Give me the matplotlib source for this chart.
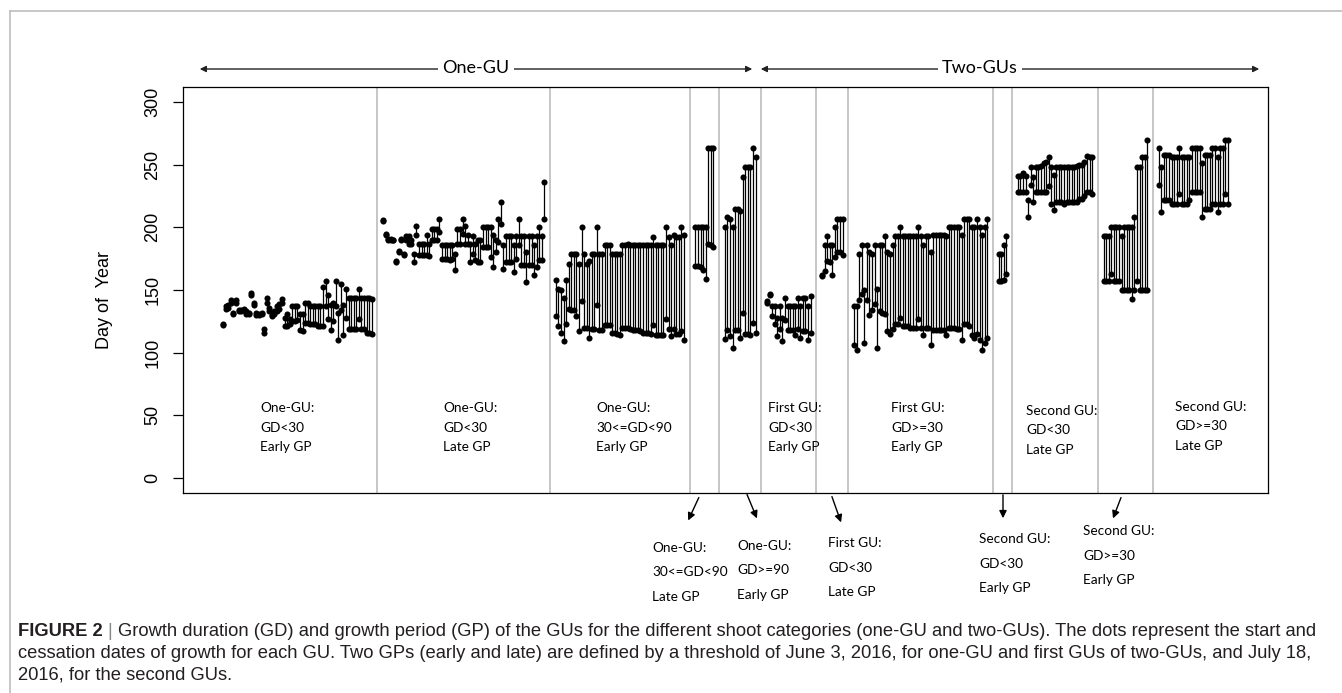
import matplotlib
matplotlib.use('Agg')
import matplotlib.pyplot as plt

plt.rcParams['font.family'] = ['Liberation Sans', 'DejaVu Sans']

# Day of year of growth start and cessation for each GU, by shoot category
one_lt30_early_start = [122, 135, 136, 140, 131, 140, 133, 133, 134, 131, 131, 146, 138, 130, 130,
                        131, 116, 140, 133, 129, 131, 133, 135, 140, 121, 121, 123, 125, 125, 126,
                        118, 117, 124, 124, 123, 123, 123, 121, 121, 121, 137, 127, 118, 125, 137,
                        110, 134, 114, 128, 119, 119, 119, 119, 127, 119, 119, 116, 116, 115]
one_lt30_early_end = [123, 137, 138, 142, 132, 142, 134, 134, 135, 133, 132, 148, 140, 132, 131,
                      132, 119, 144, 136, 130, 133, 137, 139, 143, 128, 131, 127, 137, 137, 137,
                      131, 131, 140, 140, 137, 137, 137, 137, 137, 152, 157, 146, 138, 140, 157,
                      132, 155, 138, 151, 144, 144, 144, 144, 151, 144, 144, 144, 144, 143]

one_lt30_late_start = [205, 194, 190, 190, 190, 172, 180, 190, 178, 190, 187, 187, 172, 194, 178,
                       178, 178, 178, 177, 190, 190, 190, 196, 175, 175, 175, 174, 175, 166, 187,
                       187, 195, 187, 187, 172, 179, 174, 172, 172, 184, 184, 184, 176, 168, 180,
                       188, 203, 167, 172, 172, 172, 164, 175, 186, 170, 170, 156, 170, 170, 162,
                       168, 174, 174, 207]
one_lt30_late_end = [206, 195, 191, 191, 190, 173, 181, 191, 179, 193, 193, 190, 179, 201, 187,
                     187, 187, 194, 187, 199, 199, 199, 207, 186, 186, 186, 186, 186, 179, 199,
                     199, 207, 201, 194, 187, 193, 187, 190, 190, 200, 200, 200, 200, 194, 190,
                     207, 220, 186, 193, 193, 193, 186, 193, 207, 193, 193, 180, 193, 193, 186,
                     193, 200, 193, 236]

one_30_90_early_start = [129, 121, 116, 109, 123, 135, 134, 134, 129, 117, 141, 120, 120, 112, 119,
                         119, 138, 118, 118, 122, 122, 122, 116, 116, 115, 114, 120, 120, 120, 119,
                         118, 118, 118, 117, 116, 116, 116, 115, 122, 114, 114, 114, 114, 127, 119,
                         113, 119, 115, 115, 117, 110]
one_30_90_early_end = [158, 151, 150, 144, 158, 171, 179, 179, 179, 171, 200, 179, 171, 173, 179,
                       179, 200, 179, 179, 186, 186, 186, 179, 179, 179, 179, 186, 186, 187, 186,
                       186, 186, 186, 186, 186, 186, 186, 186, 192, 186, 186, 186, 186, 200, 192,
                       186, 194, 192, 192, 200, 194]

one_30_90_late_start = [169, 169, 168, 166, 159, 187, 186, 184]
one_30_90_late_end = [200, 200, 200, 200, 200, 263, 263, 263]

one_ge90_early_start = [111, 118, 113, 104, 118, 118, 112, 132, 115, 115, 114, 124, 116]
one_ge90_early_end = [200, 208, 207, 200, 215, 215, 213, 240, 248, 248, 248, 263, 256]

first_lt30_early_start = [140, 146, 129, 123, 113, 119, 109, 126, 118, 118, 118, 114, 119, 112,
                          117, 117, 110, 116]
first_lt30_early_end = [141, 147, 137, 137, 128, 137, 128, 144, 137, 137, 137, 137, 144, 137,
                        144, 144, 137, 145]

first_lt30_late_start = [161, 165, 173, 172, 162, 176, 180, 180, 178]
first_lt30_late_end = [162, 186, 193, 186, 186, 200, 207, 207, 207]

first_ge30_early_start = [106, 102, 142, 147, 108, 142, 130, 134, 139, 104, 133, 132, 131, 117,
                          115, 119, 123, 123, 128, 121, 121, 121, 120, 120, 120, 127, 120, 114,
                          120, 120, 106, 118, 118, 118, 118, 118, 114, 120, 120, 120, 119, 119,
                          110, 123, 123, 121, 114, 112, 115, 110, 102, 108, 112]
first_ge30_early_end = [137, 137, 179, 186, 150, 186, 180, 179, 186, 151, 186, 186, 193, 180,
                        179, 186, 193, 193, 200, 193, 193, 193, 193, 193, 193, 200, 193, 186,
                        193, 193, 180, 194, 194, 194, 194, 194, 193, 200, 200, 200, 200, 200,
                        194, 207, 207, 207, 200, 200, 207, 200, 194, 200, 207]

second_lt30_early_start = [157, 157, 158, 163]
second_lt30_early_end = [179, 179, 186, 193]

second_lt30_late_start = [228, 228, 228, 228, 208, 234, 220, 228, 228, 228, 228, 228, 233, 219,
                          214, 220, 220, 220, 219, 220, 220, 220, 220, 220, 223, 223, 225, 228,
                          228, 227]
second_lt30_late_end = [241, 241, 243, 241, 222, 248, 240, 248, 248, 249, 251, 252, 256, 248,
                        242, 248, 248, 248, 248, 248, 248, 248, 248, 249, 250, 250, 252, 257,
                        256, 256]

second_ge30_early_start = [157, 157, 157, 163, 157, 157, 157, 150, 150, 150, 150, 143, 150, 157,
                           150, 150, 150, 150]
second_ge30_early_end = [193, 193, 193, 200, 200, 200, 200, 193, 200, 200, 200, 200, 208, 248,
                         248, 256, 256, 270]

second_ge30_late_start = [234, 212, 222, 222, 222, 219, 219, 219, 227, 219, 219, 219, 222, 228,
                          228, 228, 228, 208, 215, 215, 215, 219, 219, 212, 219, 219, 227, 219]
second_ge30_late_end = [263, 248, 258, 258, 258, 256, 256, 256, 263, 256, 256, 256, 256, 263,
                        263, 263, 263, 251, 258, 258, 258, 263, 263, 256, 263, 263, 270, 270]

groups = [
    (one_lt30_early_start, one_lt30_early_end),
    (one_lt30_late_start, one_lt30_late_end),
    (one_30_90_early_start, one_30_90_early_end),
    (one_30_90_late_start, one_30_90_late_end),
    (one_ge90_early_start, one_ge90_early_end),
    (first_lt30_early_start, first_lt30_early_end),
    (first_lt30_late_start, first_lt30_late_end),
    (first_ge30_early_start, first_ge30_early_end),
    (second_lt30_early_start, second_lt30_early_end),
    (second_lt30_late_start, second_lt30_late_end),
    (second_ge30_early_start, second_ge30_early_end),
    (second_ge30_late_start, second_ge30_late_end),
]

W, H, DPI = 1342, 693, 100
GAP = 4.5  # x step between the last GU of a category and the first GU of the next
NOTE_FONT = ['Lato', 'DejaVu Sans']


def fx(px):
    return px / W


def fy(py):
    return 1 - py / H


fig = plt.figure(figsize=(W / DPI, H / DPI), dpi=DPI)
ax = fig.add_axes([fx(183), fy(493), (1268 - 183) / W, (493 - 87) / H])

x0 = 0.0
seps = []
for start, end in groups:
    xs = [x0 + i for i in range(len(start))]
    ax.vlines(xs, start, end, color='black', lw=0.9, zorder=2)
    ax.plot(xs, start, 'o', color='black', ms=4.4, mec='none', zorder=3)
    ax.plot(xs, end, 'o', color='black', ms=4.4, mec='none', zorder=3)
    seps.append(xs[-1] + GAP / 2)
    x0 = xs[-1] + GAP
span = x0 - GAP
for s in seps[:-1]:
    ax.axvline(s, color='#c6c6c6', lw=1.4, zorder=1)

ax.set_xlim(-0.04 * span, span * 1.04)
ax.set_ylim(-12, 312)
ax.set_xticks([])
ax.set_yticks(range(0, 301, 50))
ax.set_yticklabels([str(v) for v in range(0, 301, 50)], rotation=90, va='center')
ax.tick_params(axis='y', length=7.5, width=0.9, pad=8, labelsize=13)
for sp in ax.spines.values():
    sp.set_linewidth(0.9)
ax.set_ylabel('Day of  Year', fontsize=13)
ax.yaxis.set_label_coords((113 - 183) / (1268 - 183), (493 - 300) / (493 - 87))


def label_block(lines, px, py, step, size=9.8):
    for i, line in enumerate(lines):
        fig.text(fx(px), fy(py + i * step), line, family=NOTE_FONT, fontsize=size,
                 ha='left', va='center', color='black')


# category names inside the panel
label_block(['One-GU:', 'GD<30', 'Early GP'], 260, 408, 19.5)
label_block(['One-GU:', 'GD<30', 'Late GP'], 443, 408, 19.5)
label_block(['One-GU:', '30<=GD<90', 'Early GP'], 596, 408, 19.5)
label_block(['First GU:', 'GD<30', 'Early GP'], 768, 408, 19.5)
label_block(['First GU:', 'GD>=30', 'Early GP'], 891, 408, 19.5)
label_block(['Second GU:', 'GD<30', 'Late GP'], 1026, 411, 19.5)
label_block(['Second GU:', 'GD>=30', 'Late GP'], 1175, 407, 19.5)

# narrow categories, named below the panel with arrows
below = [
    (['One-GU:', '30<=GD<90', 'Late GP'], 652, 548, (700, 495), (687, 523)),
    (['One-GU:', 'GD>=90', 'Early GP'], 737, 546, (746, 492), (758, 521)),
    (['First GU:', 'GD<30', 'Late GP'], 828, 543, (831, 494), (842, 525)),
    (['Second GU:', 'GD<30', 'Early GP'], 979, 539, (1003, 492), (1003, 521)),
    (['Second GU:', 'GD>=30', 'Early GP'], 1083, 531, (1122, 495), (1112, 521)),
]
for lines, px, py, tail, head in below:
    label_block(lines, px, py, 24.5)
    fig.add_artist(matplotlib.patches.FancyArrowPatch(
        (fx(tail[0]), fy(tail[1])), (fx(head[0]), fy(head[1])),
        transform=fig.transFigure, arrowstyle='-|>', mutation_scale=11,
        lw=1.0, color='black'))

# shoot type spans above the panel
for txt, left, right, mid in [('One-GU', 197, 755, 476), ('Two-GUs', 758, 1262, 980)]:
    fig.add_artist(matplotlib.patches.FancyArrowPatch(
        (fx(left), fy(69)), (fx(right), fy(69)), transform=fig.transFigure,
        arrowstyle='<|-|>', mutation_scale=9, lw=1.0, color='#222222'))
    fig.text(fx(mid), fy(68), txt, family=NOTE_FONT, fontsize=13, ha='center', va='center',
             bbox=dict(boxstyle='square,pad=0.25', fc='white', ec='none'))

# page frame
fig.add_artist(plt.Line2D([fx(10), fx(W)], [fy(11), fy(11)], transform=fig.transFigure,
                          color='#bdbdbd', lw=1.2))
fig.add_artist(plt.Line2D([fx(10), fx(10)], [fy(11), 0], transform=fig.transFigure,
                          color='#bdbdbd', lw=1.2))

# caption
cap_color = '#231f20'
cap_lines = [
    'Growth duration (GD) and growth period (GP) of the GUs for the different shoot categories '
    '(one-GU and two-GUs). The dots represent the start and',
    'cessation dates of growth for each GU. Two GPs (early and late) are defined by a threshold '
    'of June 3, 2016, for one-GU and first GUs of two-GUs, and July 18,',
    '2016, for the second GUs.',
]
cap_size = 13.2
renderer = fig.canvas.get_renderer()
head = fig.text(fx(18), fy(631), 'FIGURE 2', weight='bold',
                fontsize=cap_size, color=cap_color, va='center')
hw = head.get_window_extent(renderer).width
bar = fig.text(fx(18 + hw + 5), fy(631), '|', fontsize=cap_size,
               color='#888888', va='center')
bw = bar.get_window_extent(renderer).width
fig.text(fx(18 + hw + bw + 10), fy(631), cap_lines[0],
         fontsize=cap_size, color=cap_color, va='center')
fig.text(fx(18), fy(653), cap_lines[1], fontsize=cap_size, color=cap_color, va='center')
fig.text(fx(18), fy(675), cap_lines[2], fontsize=cap_size, color=cap_color, va='center')

fig.savefig('out.png', dpi=DPI)
